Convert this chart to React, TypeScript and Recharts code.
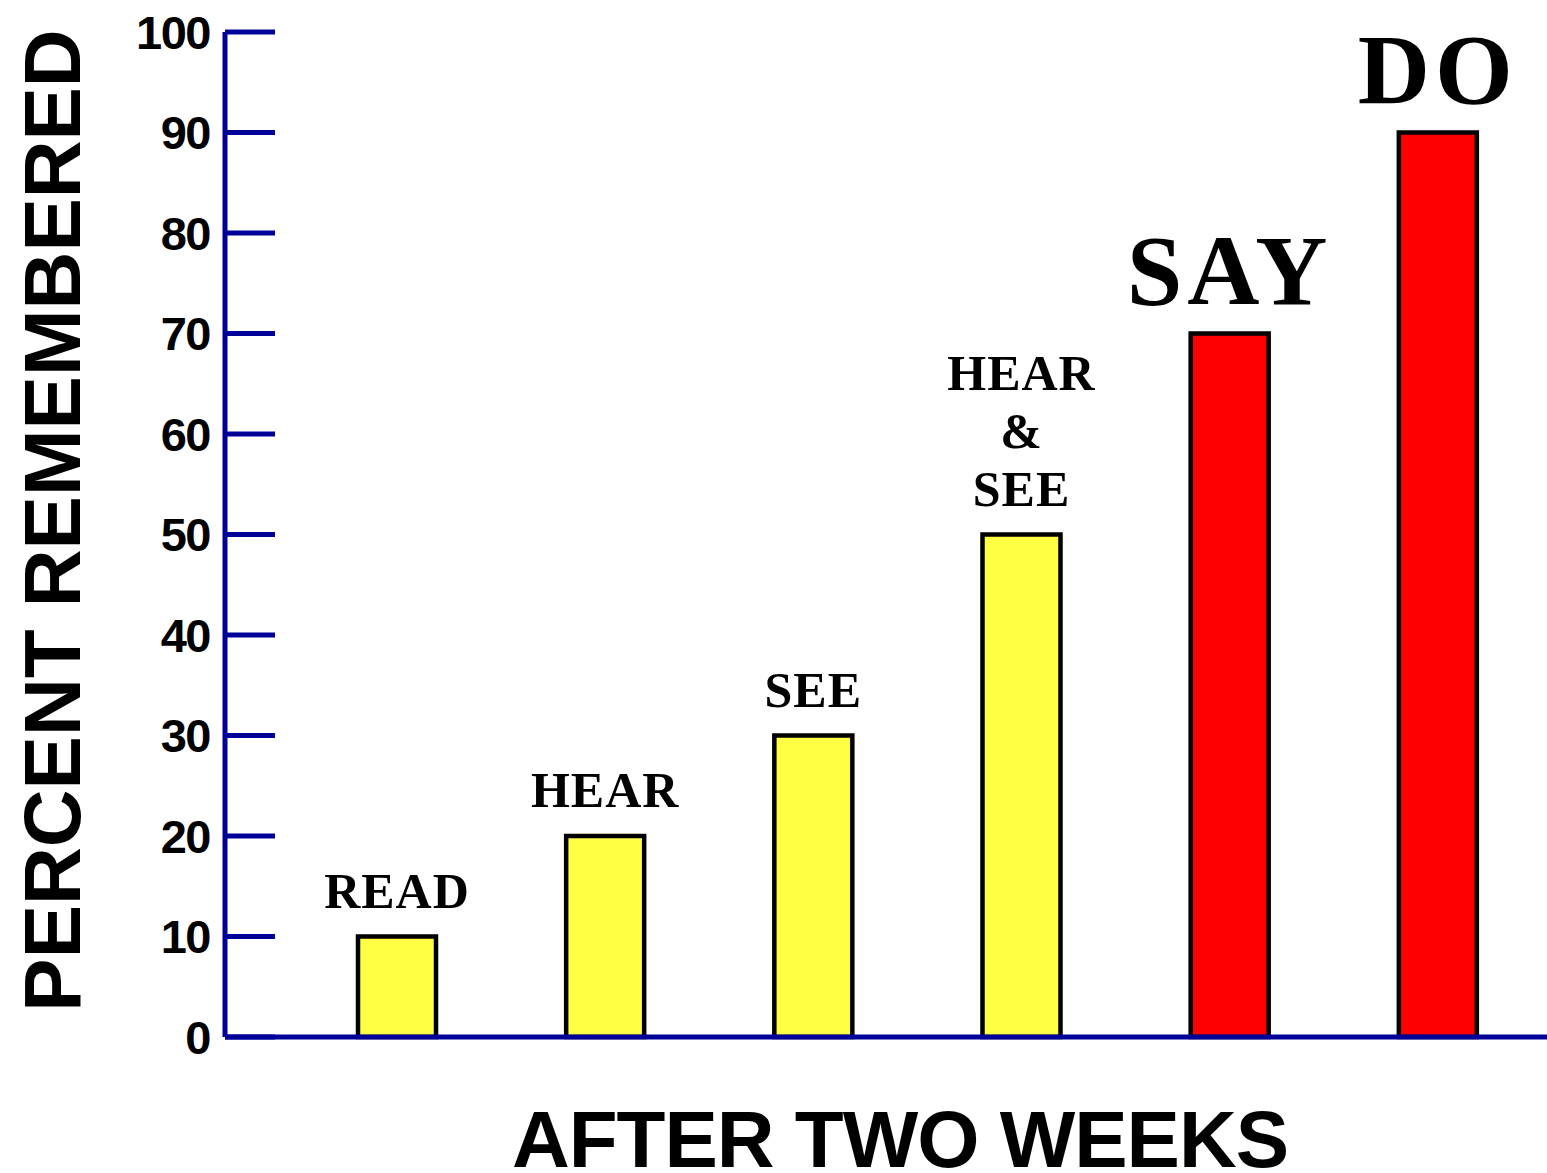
import React from 'react';
import { BarChart, Bar, XAxis, YAxis, Cell, LabelList, Label } from 'recharts';

// ---- data ----
const categories = ['READ', 'HEAR', 'SEE', 'HEAR & SEE', 'SAY', 'DO'];
const percentRemembered = [10, 20, 30, 50, 70, 90];
const groups = ['passive', 'passive', 'passive', 'passive', 'active', 'active'];
const yTicks = [0, 10, 20, 30, 40, 50, 60, 70, 80, 90, 100];
const yAxisTitle = 'PERCENT REMEMBERED';
const xAxisTitle = 'AFTER TWO WEEKS';

const data = categories.map((c, i) => ({ category: c, value: percentRemembered[i], group: groups[i] }));

// ---- styles ----
const AXIS_COLOR = '#000099';
const GROUP_FILL: Record<string, string> = { passive: '#FFFF44', active: '#FF0000' };
const GROUP_LABEL_SIZE: Record<string, number> = { passive: 50, active: 100 };
const SANS = '"Liberation Sans", Arial, Helvetica, sans-serif';
const SERIF = '"Liberation Serif", "Times New Roman", Times, serif';

const YTick = (props: any) => {
  const { x, y, payload } = props;
  return (
    <g>
      <line x1={x} x2={x + 50} y1={y} y2={y} stroke={AXIS_COLOR} strokeWidth={5} />
      <text
        x={x - 15}
        y={y}
        dy="0.36em"
        textAnchor="end"
        fontFamily={SANS}
        fontWeight="bold"
        fontSize={47}
        letterSpacing={-1.5}
        fill="#000"
      >
        {payload.value}
      </text>
    </g>
  );
};

const BarLabel = (props: any) => {
  const { x, y, width, value } = props;
  const idx = categories.indexOf(value);
  const group = groups[idx];
  const size = GROUP_LABEL_SIZE[group];
  const cx = x + width / 2;
  const lines = String(value).split(' ').filter((s) => s.length > 0);
  const lineHeight = 58;
  const bottomGap = group === 'active' ? 30 : 29;
  return (
    <text
      textAnchor="middle"
      fontFamily={SERIF}
      fontWeight="bold"
      fontSize={size}
      letterSpacing={group === 'active' ? 5 : 1}
      fill="#000"
    >
      {lines.map((ln, i) => (
        <tspan key={i} x={cx} y={y - bottomGap - (lines.length - 1 - i) * lineHeight}>
          {ln}
        </tspan>
      ))}
    </text>
  );
};

const YTitle = (props: any) => {
  const vb = props.viewBox || { x: 0, y: 32, width: 225, height: 1005 };
  const cx = vb.x + 80;
  const cy = vb.y + vb.height / 2 - 14;
  return (
    <text
      x={cx}
      y={cy}
      transform={`rotate(-90, ${cx}, ${cy})`}
      textAnchor="middle"
      fontFamily={SANS}
      fontWeight="bold"
      fontSize={80}
      fill="#000"
    >
      {yAxisTitle}
    </text>
  );
};

const XTitle = (props: any) => {
  const vb = props.viewBox || { x: 225, y: 1037, width: 1322, height: 60 };
  const cx = vb.x + vb.width / 2 + 14;
  const by = 1167;
  return (
    <text
      x={cx}
      y={by}
      textAnchor="middle"
      fontFamily={SANS}
      fontWeight="bold"
      fontSize={80}
      letterSpacing={-1}
      fill="#000"
    >
      {xAxisTitle}
    </text>
  );
};

export default function App() {
  return (
    <div style={{ position: 'absolute', left: 0, top: 0, width: 1547, height: 1173, background: '#fff' }}>
      <BarChart
        width={1547}
        height={1173}
        data={data}
        margin={{ top: 32, right: 0, bottom: 76, left: 0 }}
        barCategoryGap={0}
      >
        <XAxis
          dataKey="category"
          tick={false}
          tickLine={false}
          axisLine={{ stroke: AXIS_COLOR, strokeWidth: 5 }}
          padding={{ left: 68, right: 5 }}
          height={60}
        >
          <Label content={<XTitle />} />
        </XAxis>
        <YAxis
          type="number"
          domain={[0, 100]}
          ticks={yTicks}
          interval={0}
          width={225}
          tickSize={0}
          tickMargin={0}
          tickLine={false}
          tick={<YTick />}
          axisLine={{ stroke: AXIS_COLOR, strokeWidth: 5 }}
        >
          <Label content={<YTitle />} />
        </YAxis>
        <Bar dataKey="value" barSize={78} stroke="#000" strokeWidth={4.5} isAnimationActive={false}>
          {data.map((d, i) => (
            <Cell key={i} fill={GROUP_FILL[d.group]} />
          ))}
          <LabelList dataKey="category" content={<BarLabel />} />
        </Bar>
      </BarChart>
    </div>
  );
}
